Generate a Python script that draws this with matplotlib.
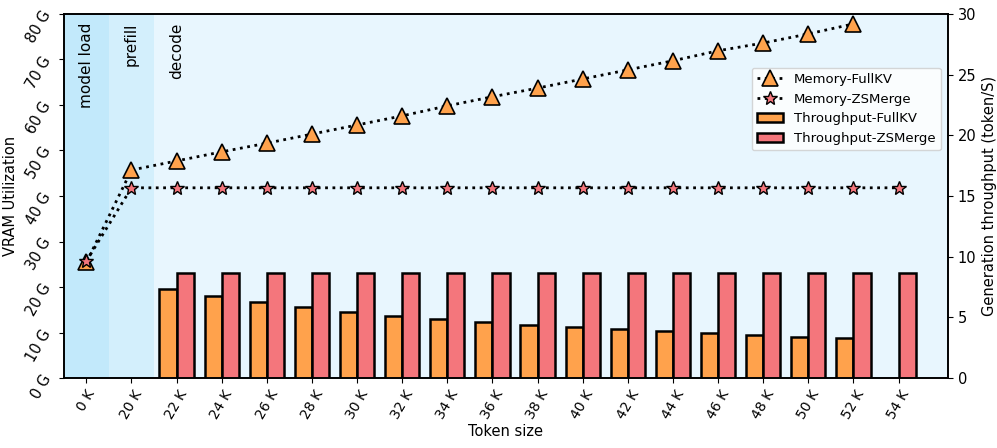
import matplotlib
matplotlib.use("Agg")
import matplotlib.pyplot as plt
import numpy as np

tokens = ["0 K", "20 K", "22 K", "24 K", "26 K", "28 K", "30 K", "32 K", "34 K", "36 K",
          "38 K", "40 K", "42 K", "44 K", "46 K", "48 K", "50 K", "52 K", "54 K"]
mem_fullkv = [25.4, 45.7, 47.7, 49.7, 51.6, 53.6, 55.6, 57.6, 59.8, 61.8, 63.7, 65.7,
              67.7, 69.7, 71.9, 73.6, 75.6, 77.8, None]
mem_zsmerge = [25.7, 41.8, 41.8, 41.8, 41.8, 41.8, 41.8, 41.8, 41.8, 41.8, 41.8, 41.8,
               41.8, 41.8, 41.8, 41.8, 41.8, 41.8, 41.8]
thr_fullkv = [0, 0, 7.3, 6.76, 6.29, 5.83, 5.47, 5.14, 4.86, 4.6, 4.37, 4.2, 4.01,
              3.85, 3.68, 3.51, 3.38, 3.27, 0]
thr_zsmerge = [0, 0, 8.67, 8.67, 8.67, 8.67, 8.67, 8.67, 8.67, 8.67, 8.67, 8.67, 8.67,
               8.67, 8.67, 8.67, 8.67, 8.67, 8.67]
phases = ["model load", "prefill", "decode"]
left_ticks = ["0 G", "10 G", "20 G", "30 G", "40 G", "50 G", "60 G", "70 G", "80 G"]

x = np.arange(len(tokens))
fig = plt.figure(figsize=(9.97, 4.48), dpi=100)
ax1 = fig.add_axes([0.064, 0.156, 0.887, 0.813])
ax2 = ax1.twinx()
ax2.patch.set_visible(False)

c_orange = "#FFA24C"
c_red = "#F4767C"

ax1.axvspan(-0.5, 0.5, color="#C2E9FB", lw=0, zorder=0)
ax1.axvspan(0.5, 1.5, color="#D3EFFC", lw=0, zorder=0)
ax1.axvspan(1.5, 20, color="#E8F6FE", lw=0, zorder=0)

w = 0.38
fk = np.array(thr_fullkv, dtype=float)
zs = np.array(thr_zsmerge, dtype=float)
mfk = fk > 0
mzs = zs > 0
b1 = ax2.bar(x[mfk] - w / 2, fk[mfk], width=w, color=c_orange, edgecolor="black", lw=1.8,
             label="Throughput-FullKV")
b2 = ax2.bar(x[mzs] + w / 2, zs[mzs], width=w, color=c_red, edgecolor="black", lw=1.8,
             label="Throughput-ZSMerge")

mf = np.array([np.nan if v is None else v for v in mem_fullkv], dtype=float)
l1, = ax1.plot(x, mf, linestyle=":", color="black", lw=2, marker="^", markersize=11,
               markerfacecolor=c_orange, markeredgecolor="black", markeredgewidth=1.2,
               label="Memory-FullKV", zorder=5)
l2, = ax1.plot(x, mem_zsmerge, linestyle=":", color="black", lw=2, marker="*", markersize=10.5,
               markerfacecolor=c_red, markeredgecolor="black", markeredgewidth=1.0,
               label="Memory-ZSMerge", zorder=6)

ax1.set_xlim(-0.5, 19.1)
ax1.set_ylim(0, 80)
ax2.set_ylim(0, 30)
ax1.set_yticks(np.arange(0, 81, 10))
ax1.set_yticklabels(left_ticks, rotation=60, fontsize=10.5)
ax2.set_yticks([0, 5, 10, 15, 20, 25, 30])
ax2.tick_params(axis="y", labelsize=10.5)
ax1.set_xticks(x)
ax1.set_xticklabels(tokens, rotation=60, fontsize=10)
ax1.set_xlabel("Token size", fontsize=10.5, labelpad=2)
ax1.set_ylabel("VRAM Utilization", fontsize=10.5)
ax2.set_ylabel("Generation throughput (token/S)", fontsize=10.5)

for i, p in enumerate(phases):
    ax1.text(i, 78.0, p, rotation=90, ha="center", va="top", fontsize=11)

for sp in list(ax1.spines.values()) + list(ax2.spines.values()):
    sp.set_linewidth(1.2)

ax2.legend(handles=[l1, l2, b1, b2], loc="upper right", bbox_to_anchor=(0.999, 0.87),
           fontsize=9.5, framealpha=0.8)

fig.savefig("out.png", dpi=100)
